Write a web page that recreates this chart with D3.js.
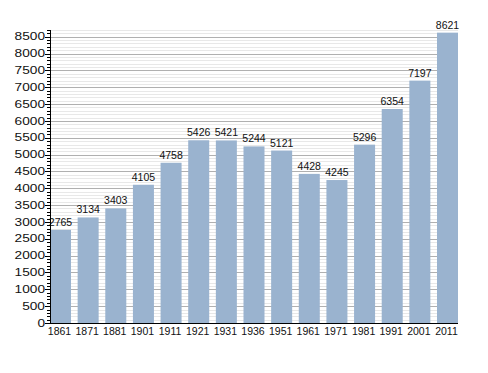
<!DOCTYPE html>
<html>
<head>
<meta charset="utf-8">
<script src="https://cdn.jsdelivr.net/npm/d3@7"></script>
<style>
  body { margin: 0; background: #fff; }
  text { font-family: "Liberation Sans", Arial, sans-serif; fill: #111; }
</style>
</head>
<body>
<div id="chart"></div>
<script>
var years = ['1861', '1871', '1881', '1901', '1911', '1921', '1931', '1936',
  '1951', '1961', '1971', '1981', '1991', '2001', '2011'];
var population = [2765, 3134, 3403, 4105, 4758, 5426, 5421, 5244,
  5121, 4428, 4245, 5296, 6354, 7197, 8621];
var majorTicks = d3.range(0, 8501, 500);
var minorTicks = d3.range(0, 8701, 100);

var width = 488;
var height = 373;
var plot = { left: 50, right: 458, top: 30, bottom: 323 };

var svg = d3.select('#chart').append('svg')
  .attr('width', width)
  .attr('height', height);

var x = d3.scaleBand()
  .domain(years)
  .range([plot.left, plot.right])
  .paddingInner(0.24)
  .paddingOuter(0);

var y = d3.scaleLinear()
  .domain([0, 8700])
  .range([plot.bottom, plot.top]);

function py(d) {
  return Math.round(y(d)) + 0.5;
}

// grid lines
svg.append('g').selectAll('line')
  .data(minorTicks.filter(function (d) { return d % 500 !== 0; }))
  .enter().append('line')
  .attr('x1', plot.left).attr('x2', plot.right)
  .attr('y1', py)
  .attr('y2', py)
  .style('stroke', '#e8e8e8')
  .style('stroke-width', 1);

svg.append('g').selectAll('line')
  .data(majorTicks.filter(function (d) { return d > 0; }))
  .enter().append('line')
  .attr('x1', plot.left).attr('x2', plot.right)
  .attr('y1', py)
  .attr('y2', py)
  .style('stroke', '#b0b0b0')
  .style('stroke-width', 1);

// bars
svg.append('g').selectAll('rect')
  .data(population)
  .enter().append('rect')
  .attr('x', function (d, i) { return x(years[i]); })
  .attr('y', function (d) { return y(d); })
  .attr('width', x.bandwidth())
  .attr('height', function (d) { return y(0) - y(d); })
  .style('fill', '#9ab3cf');

// value labels
svg.append('g').selectAll('text')
  .data(population)
  .enter().append('text')
  .attr('x', function (d, i) { return x(years[i]) + x.bandwidth() / 2; })
  .attr('y', function (d) { return y(d) - 4; })
  .attr('text-anchor', 'middle')
  .style('font-size', '10.5px')
  .text(function (d) { return d; });

// y axis
var yAxis = svg.append('g');
yAxis.append('line')
  .attr('x1', plot.left + 0.5).attr('x2', plot.left + 0.5)
  .attr('y1', plot.top).attr('y2', plot.bottom)
  .style('stroke', '#000');
yAxis.selectAll('line.tick')
  .data(minorTicks)
  .enter().append('line')
  .attr('x1', function (d) { return d % 500 === 0 ? plot.left - 5 : plot.left - 3; })
  .attr('x2', plot.left)
  .attr('y1', py)
  .attr('y2', py)
  .style('stroke', '#000');
yAxis.selectAll('text')
  .data(majorTicks)
  .enter().append('text')
  .attr('x', plot.left - 5)
  .attr('y', function (d) { return y(d); })
  .attr('dy', '0.35em')
  .attr('text-anchor', 'end')
  .attr('textLength', function (d) { return String(d).length * 7.6; })
  .attr('lengthAdjust', 'spacingAndGlyphs')
  .style('font-size', '10.5px')
  .text(function (d) { return d; });

// x axis
var xAxis = svg.append('g');
xAxis.append('line')
  .attr('x1', plot.left).attr('x2', plot.right)
  .attr('y1', plot.bottom + 0.5).attr('y2', plot.bottom + 0.5)
  .style('stroke', '#000');
xAxis.selectAll('text')
  .data(years)
  .enter().append('text')
  .attr('x', function (d) { return x(d) + x.bandwidth() / 2 - 1; })
  .attr('y', plot.bottom + 12)
  .attr('text-anchor', 'middle')
  .style('font-size', '10.5px')
  .text(function (d) { return d; });
</script>
</body>
</html>
